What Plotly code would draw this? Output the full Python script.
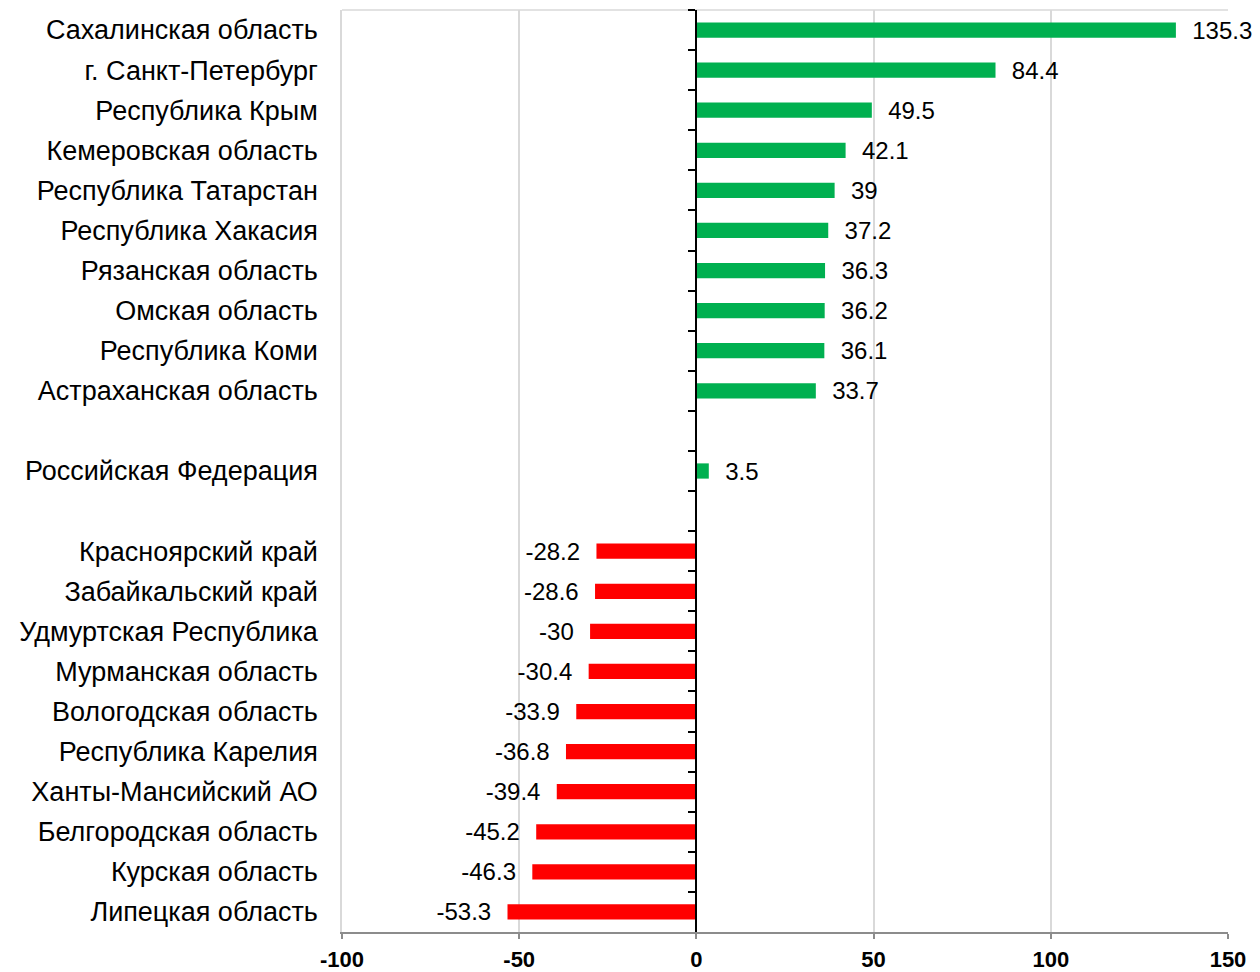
import plotly.graph_objects as go

NBSP = "\u00a0"

regions = [
    "Сахалинская область",
    "г. Санкт-Петербург",
    "Республика Крым",
    "Кемеровская область",
    "Республика Татарстан",
    "Республика Хакасия",
    "Рязанская область",
    "Омская область",
    "Республика Коми",
    "Астраханская область",
    " ",
    "Российская Федерация",
    "  ",
    "Красноярский край",
    "Забайкальский край",
    "Удмуртская Республика",
    "Мурманская область",
    "Вологодская область",
    "Республика Карелия",
    "Ханты-Мансийский АО",
    "Белгородская область",
    "Курская область",
    "Липецкая область",
]
values = [
    135.3, 84.4, 49.5, 42.1, 39, 37.2, 36.3, 36.2, 36.1, 33.7,
    None,
    3.5,
    None,
    -28.2, -28.6, -30, -30.4, -33.9, -36.8, -39.4, -45.2, -46.3, -53.3,
]
x_ticks = [-100, -50, 0, 50, 100, 150]

GREEN = "#00B050"
RED = "#FF0000"
GRID = "#D9D9D9"
FONT = "Arial, Liberation Sans, sans-serif"

colors = [GREEN if (v is not None and v >= 0) else RED for v in values]
labels = []
for v in values:
    if v is None:
        labels.append("")
    elif v >= 0:
        labels.append(NBSP * 2 + f"{v:g}")
    else:
        labels.append(f"{v:g}" + NBSP * 2)

fig = go.Figure()
fig.add_bar(
    y=regions,
    x=values,
    orientation="h",
    marker=dict(color=colors, line=dict(width=0)),
    width=0.38,
    text=labels,
    textposition="outside",
    textfont=dict(family=FONT, size=24, color="#000000"),
    constraintext="none",
    cliponaxis=False,
    hovertemplate="%{y}: %{x}<extra></extra>",
)
# invisible helper trace so the zero-axis (ticks between categories) is drawn
fig.add_scatter(
    y=regions,
    x=[0] * len(regions),
    yaxis="y2",
    mode="markers",
    marker=dict(opacity=0),
    hoverinfo="skip",
    showlegend=False,
)

n = len(regions)
fig.update_layout(
    width=1252,
    height=964,
    paper_bgcolor="white",
    plot_bgcolor="white",
    showlegend=False,
    margin=dict(l=334, r=32, t=2, b=40, autoexpand=False),
    font=dict(family=FONT, color="#000000"),
    xaxis=dict(
        range=[-100, 150],
        tickvals=x_ticks,
        ticktext=[str(t) for t in x_ticks],
        tickfont=dict(family=FONT, size=22, color="#000000", weight="bold"),
        showgrid=True,
        gridcolor=GRID,
        gridwidth=1.5,
        zeroline=False,
        showline=True,
        linecolor="#8C8C8C",
        linewidth=1.5,
        ticks="outside",
        ticklen=5,
        tickwidth=1.5,
        tickcolor="#8C8C8C",
        ticklabelstandoff=2,
        fixedrange=True,
    ),
    yaxis=dict(
        type="category",
        categoryorder="array",
        categoryarray=regions,
        range=[n - 0.5, -0.5],
        showgrid=False,
        zeroline=False,
        showline=True,
        linecolor=GRID,
        linewidth=1.5,
        ticks="",
        ticklabelstandoff=17,
        tickfont=dict(family=FONT, size=27, color="#000000"),
        fixedrange=True,
    ),
    yaxis2=dict(
        type="category",
        categoryorder="array",
        categoryarray=regions,
        overlaying="y",
        matches="y",
        anchor="free",
        position=0.4,
        side="left",
        showticklabels=False,
        showgrid=False,
        zeroline=False,
        showline=True,
        linecolor="#000000",
        linewidth=2,
        ticks="outside",
        tickson="boundaries",
        ticklen=7,
        tickwidth=2,
        tickcolor="#000000",
        fixedrange=True,
    ),
    shapes=[
        dict(
            type="line", xref="paper", yref="paper",
            x0=0, x1=1, y0=1, y1=1,
            line=dict(color=GRID, width=1.5), layer="below",
        )
    ],
)

fig.write_html("out.html")
